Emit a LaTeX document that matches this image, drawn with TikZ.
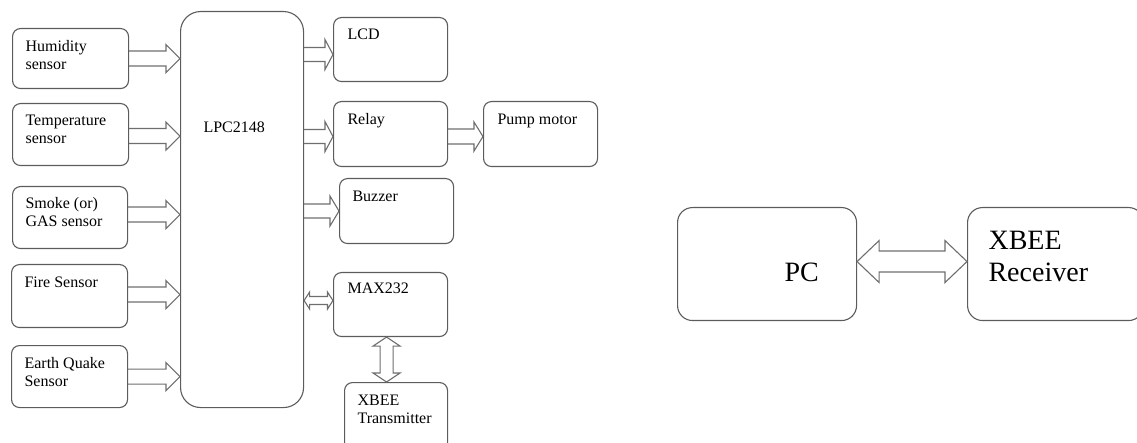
\documentclass[tikz,border=0pt]{standalone}
\usepackage{fontspec}
\setmainfont{Liberation Serif}
\usetikzlibrary{calc}
\definecolor{cgrey}{HTML}{5C5C5C}
\definecolor{carrow}{HTML}{6E6E6E}
\newcommand{\twoline}[2]{\begin{tabular}[t]{@{}l@{}}#1\\#2\end{tabular}}
\tikzset{
  every picture/.style={line width=1.1pt},
  box/.style={draw=cgrey, rounded corners=#1, anchor=north west, inner sep=0pt},
  box/.default=8pt,
  txt/.style={font=\fontsize{16}{18}\selectfont, anchor=base west, inner sep=0pt},
  bigtxt/.style={txt, font=\fontsize{28}{32}\selectfont},
  aw/.initial=7.5, ah/.initial=14, al/.initial=14,
  % hollow block arrow, start to target (horizontal)
  rarrow/.style={draw=carrow, to path={
    let \p1=(\tikztostart), \p2=(\tikztotarget),
        \n1={\pgfkeysvalueof{/tikz/aw}}, \n2={\pgfkeysvalueof{/tikz/ah}}, \n3={\pgfkeysvalueof{/tikz/al}} in
    (\x1,\y1+\n1) -- (\x2-\n3,\y1+\n1) -- (\x2-\n3,\y1+\n2) -- (\x2,\y1)
    -- (\x2-\n3,\y1-\n2) -- (\x2-\n3,\y1-\n1) -- (\x1,\y1-\n1)}},
  % hollow block arrow with two heads (horizontal)
  darrow/.style={draw=carrow, to path={
    let \p1=(\tikztostart), \p2=(\tikztotarget),
        \n1={\pgfkeysvalueof{/tikz/aw}}, \n2={\pgfkeysvalueof{/tikz/ah}}, \n3={\pgfkeysvalueof{/tikz/al}} in
    (\x1,\y1) -- (\x1+\n3,\y1+\n2) -- (\x1+\n3,\y1+\n1) -- (\x2-\n3,\y1+\n1) -- (\x2-\n3,\y1+\n2) -- (\x2,\y1)
    -- (\x2-\n3,\y1-\n2) -- (\x2-\n3,\y1-\n1) -- (\x1+\n3,\y1-\n1) -- (\x1+\n3,\y1-\n2) -- cycle}},
  % same, downwards
  varrow/.style={draw=carrow, to path={
    let \p1=(\tikztostart), \p2=(\tikztotarget),
        \n1={\pgfkeysvalueof{/tikz/aw}}, \n2={\pgfkeysvalueof{/tikz/ah}}, \n3={\pgfkeysvalueof{/tikz/al}} in
    (\x1,\y1) -- (\x1+\n2,\y1-\n3) -- (\x1+\n1,\y1-\n3) -- (\x1+\n1,\y2+\n3) -- (\x1+\n2,\y2+\n3) -- (\x1,\y2)
    -- (\x1-\n2,\y2+\n3) -- (\x1-\n1,\y2+\n3) -- (\x1-\n1,\y1-\n3) -- (\x1-\n2,\y1-\n3) -- cycle}},
}

\begin{document}
\begin{tikzpicture}[x=1pt, y=-1pt]
  \useasboundingbox (0,0) rectangle (1137,443);
  % ---------- sensors ----------
  \node[box, minimum width=116, minimum height=60] (hum) at (12,28) {};
  \node[box, minimum width=116, minimum height=62] (temp) at (12,103) {};
  \node[box, minimum width=115, minimum height=62] (smoke) at (12,186) {};
  \node[box, minimum width=116, minimum height=63] (fire) at (11,264) {};
  \node[box, minimum width=116, minimum height=62] (quake) at (11,345) {};
  \node[txt] (humt) at ($(hum.north west)+(13,24)$) {\twoline{Humidity}{sensor}};
  \node[txt] (tempt) at ($(temp.north west)+(13,23)$) {\twoline{Temperature}{sensor}};
  \node[txt] (smoket) at ($(smoke.north west)+(13,23)$) {\twoline{Smoke (or)}{GAS sensor}};
  \node[txt] (firet) at ($(fire.north west)+(13,24)$) {Fire Sensor};
  \node[txt] (quaket) at ($(quake.north west)+(13,23)$) {\twoline{Earth Quake}{Sensor}};
  % ---------- controller ----------
  \node[box=20pt, minimum width=123, minimum height=396] (lpc) at (180,11) {};
  \node[txt] (lpct) at ($(lpc.north west)+(23,122)$) {LPC2148};
  % ---------- outputs ----------
  \node[box, minimum width=114, minimum height=64] (lcd) at (333,17) {};
  \node[box, minimum width=114, minimum height=65] (relay) at (333,101) {};
  \node[box, minimum width=114, minimum height=65] (pump) at (483,101) {};
  \node[box, minimum width=114, minimum height=65] (buzz) at (339,178) {};
  \node[box, minimum width=114, minimum height=64] (max) at (333,272) {};
  \node[box, minimum width=103, minimum height=70] (xbt) at (344,382) {};
  \node[txt] (lcdt) at ($(lcd.north west)+(14,23)$) {LCD};
  \node[txt] (relayt) at ($(relay.north west)+(14,24)$) {Relay};
  \node[txt] (pumpt) at ($(pump.north west)+(14,24)$) {Pump motor};
  \node[txt] (buzzt) at ($(buzz.north west)+(13,24)$) {Buzzer};
  \node[txt] (maxt) at ($(max.north west)+(14,22)$) {MAX232};
  \node[txt] (xbtt) at ($(xbt.north west)+(13,23)$) {\twoline{XBEE}{Transmitter}};
  % ---------- receiving side ----------
  \node[box=15pt, minimum width=179, minimum height=113] (pc) at (677,207) {};
  \node[box=15pt, minimum width=176, minimum height=113] (xbr) at (967,207) {};
  \node[bigtxt] (pct) at ($(pc.north west)+(107,75)$) {PC};
  \node[bigtxt] (xbrt) at ($(xbr.north west)+(21,43)$) {\twoline{XBEE}{Receiver}};
  % ---------- arrows ----------
  \draw[rarrow] (hum.east) to (lpc.west |- hum.east);
  \draw[rarrow] ($(temp.east)+(0,1.5)$) to (lpc.west |- temp.east);
  \draw[rarrow] ($(smoke.east)+(0,-3)$) to (lpc.west |- smoke.east);
  \draw[rarrow] ($(fire.east)+(0,-1.5)$) to (lpc.west |- fire.east);
  \draw[rarrow] (quake.east) to (lpc.west |- quake.east);
  \draw[rarrow, aw=7, ah=15, al=8] ($(lpc.east |- lcd.west)+(0,5)$) to (lcd.west);
  \draw[rarrow, aw=7, ah=15, al=8] ($(lpc.east |- relay.west)+(0,2.5)$) to (relay.west);
  \draw[rarrow, aw=7, ah=15, al=9] (lpc.east |- buzz.west) to (buzz.west);
  \draw[rarrow, aw=7.5, ah=14.5, al=9] ($(relay.east)+(0,2.5)$) to (pump.west);
  \draw[darrow, aw=4, ah=8.5, al=5.5] ($(lpc.east |- max.west)+(0,-4)$) to (max.west);
  \draw[varrow, aw=6.5, ah=13.5, al=9] ($(max.south)+(-4,0)$) to (xbt.north);
  \draw[darrow, aw=10.5, ah=21, al=22] ($(pc.east)+(0,-2.5)$) to (xbr.west);
\end{tikzpicture}
\end{document}
